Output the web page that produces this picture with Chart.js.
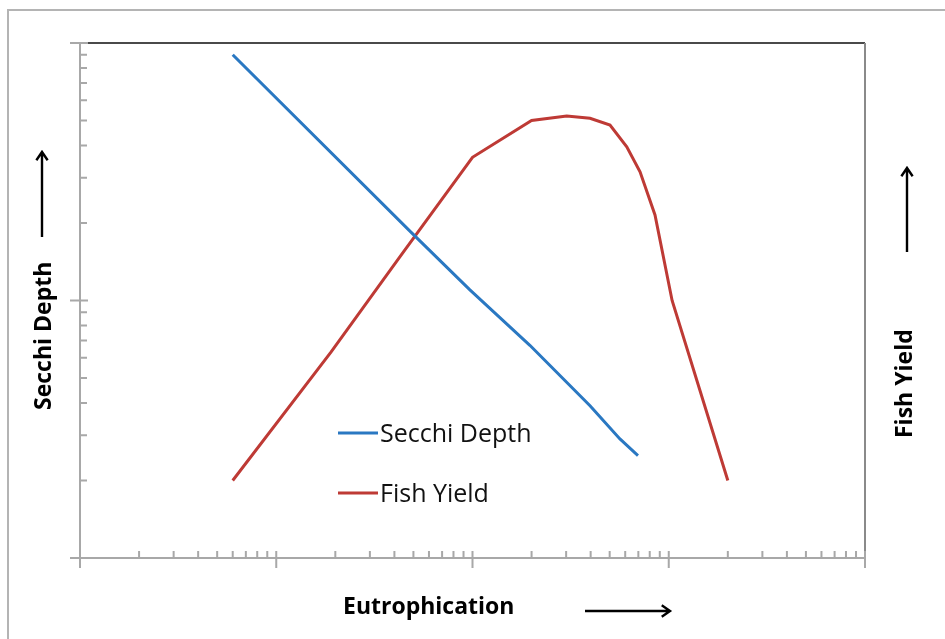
<!DOCTYPE html>
<html>
<head>
<meta charset="utf-8">
<script src="https://cdn.jsdelivr.net/npm/chart.js@4.4.1/dist/chart.umd.min.js"></script>
<style>
  html, body { margin: 0; padding: 0; background: #fff; overflow: hidden; }
  #wrap { position: relative; width: 945px; height: 639px; }
  #frame { position: absolute; left: 7px; top: 9px; width: 938px; height: 630px;
           border-top: 2px solid #b4b4b4; border-left: 2px solid #b4b4b4; box-sizing: border-box; }
  canvas { position: absolute; left: 0; top: 0; }
</style>
</head>
<body>
<div id="wrap">
  <div id="frame"></div>
  <canvas id="chart" width="945" height="639"></canvas>
</div>
<script>
// values (both axes logarithmic)
var secchiX = [6, 49, 97, 196, 397, 564, 697];
var secchiY = [90, 18.3, 11, 6.7, 3.9, 2.9, 2.5];
var fishX = [6, 19, 43, 100, 200, 302, 397, 502, 611, 714, 851, 1040, 2000];
var fishY = [2, 6.3, 14.9, 36, 50, 52, 51, 48, 39.5, 31.6, 21.5, 10, 2];
var xMajorTicks = [1, 10, 100, 1000, 10000];
var yMajorTicks = [1, 10, 100];
var seriesNames = ['Secchi Depth', 'Fish Yield'];
var seriesColors = ['#2a78c2', '#be3a35'];
var xTitle = 'Eutrophication';
var yTitle = 'Secchi Depth';
var y2Title = 'Fish Yield';

var toPoints = function (xs, ys) {
  var pts = [];
  for (var i = 0; i < xs.length; i++) {
    pts.push({x: xs[i], y: ys[i]});
  }
  return pts;
};

var arrow = function (ctx, x1, y1, x2, y2) {
  var a = Math.atan2(y2 - y1, x2 - x1);
  ctx.beginPath();
  ctx.moveTo(x1, y1);
  ctx.lineTo(x2, y2);
  ctx.moveTo(x2 - 10 * Math.cos(a - 0.6), y2 - 10 * Math.sin(a - 0.6));
  ctx.lineTo(x2, y2);
  ctx.lineTo(x2 - 10 * Math.cos(a + 0.6), y2 - 10 * Math.sin(a + 0.6));
  ctx.stroke();
};

var axesPlugin = {
  id: 'axesPlugin',
  beforeDatasetsDraw: function (chart) {
    var ctx = chart.ctx;
    var area = chart.chartArea;
    var xs = chart.scales.x;
    var ys = chart.scales.y;
    ctx.save();
    ctx.lineCap = 'butt';

    // top and right frame
    ctx.strokeStyle = '#4a4a4a';
    ctx.lineWidth = 2;
    ctx.beginPath();
    ctx.moveTo(area.left, area.top);
    ctx.lineTo(area.right, area.top);
    ctx.stroke();
    ctx.strokeStyle = '#8a8a8a';
    ctx.beginPath();
    ctx.moveTo(area.right, area.top);
    ctx.lineTo(area.right, area.bottom);
    ctx.stroke();

    // left and bottom axes
    ctx.strokeStyle = '#a8a8a8';
    ctx.beginPath();
    ctx.moveTo(area.left, area.top);
    ctx.lineTo(area.left, area.bottom + 10);
    ctx.moveTo(area.left - 10, area.bottom);
    ctx.lineTo(area.right, area.bottom);
    ctx.stroke();

    // x ticks
    ctx.lineWidth = 2;
    ctx.beginPath();
    for (var i = 0; i < xMajorTicks.length; i++) {
      var px = xs.getPixelForValue(xMajorTicks[i]);
      ctx.moveTo(px, area.bottom - 7);
      ctx.lineTo(px, area.bottom + 10);
      if (i < xMajorTicks.length - 1) {
        for (var m = 2; m <= 9; m++) {
          var mx = xs.getPixelForValue(xMajorTicks[i] * m);
          ctx.moveTo(mx, area.bottom - 7);
          ctx.lineTo(mx, area.bottom);
        }
      }
    }
    // y ticks
    for (var j = 0; j < yMajorTicks.length; j++) {
      var py = ys.getPixelForValue(yMajorTicks[j]);
      ctx.moveTo(area.left - 10, py);
      ctx.lineTo(area.left + 8, py);
      if (j < yMajorTicks.length - 1) {
        for (var n = 2; n <= 9; n++) {
          var my = ys.getPixelForValue(yMajorTicks[j] * n);
          ctx.moveTo(area.left, my);
          ctx.lineTo(area.left + 7, my);
        }
      }
    }
    ctx.stroke();
    ctx.restore();
  },
  afterDraw: function (chart) {
    var ctx = chart.ctx;
    ctx.save();

    // legend inside the plot
    var sets = chart.data.datasets;
    ctx.font = '25px "Open Sans"';
    ctx.textBaseline = 'alphabetic';
    ctx.textAlign = 'left';
    for (var i = 0; i < sets.length; i++) {
      var ly = 433 + i * 60;
      ctx.strokeStyle = sets[i].borderColor;
      ctx.lineWidth = 3;
      ctx.beginPath();
      ctx.moveTo(338, ly);
      ctx.lineTo(378, ly);
      ctx.stroke();
      ctx.fillStyle = '#111';
      ctx.fillText(sets[i].label, 380, ly + 9);
    }

    // axis titles
    ctx.fillStyle = '#000';
    ctx.font = 'bold 23px "Open Sans"';
    ctx.fillText(xTitle, 343, 614);

    ctx.save();
    ctx.translate(51, 410);
    ctx.rotate(-Math.PI / 2);
    ctx.fillText(yTitle, 0, 0);
    ctx.restore();

    ctx.save();
    ctx.translate(912, 438);
    ctx.rotate(-Math.PI / 2);
    ctx.fillText(y2Title, 0, 0);
    ctx.restore();

    // arrows
    ctx.strokeStyle = '#000';
    ctx.lineWidth = 2.4;
    arrow(ctx, 585, 611, 670, 611);
    arrow(ctx, 42, 237, 42, 152);
    arrow(ctx, 907, 252, 907, 168);
    ctx.restore();
  }
};

var chart = new Chart(document.getElementById('chart').getContext('2d'), {
  type: 'line',
  data: {
    datasets: [
      {label: seriesNames[0], data: toPoints(secchiX, secchiY), borderColor: seriesColors[0]},
      {label: seriesNames[1], data: toPoints(fishX, fishY), borderColor: seriesColors[1]}
    ]
  },
  options: {
    responsive: false,
    animation: false,
    events: [],
    layout: {padding: {left: 80, right: 80, top: 43, bottom: 81}},
    elements: {
      line: {borderWidth: 3, tension: 0, fill: false},
      point: {radius: 0}
    },
    plugins: {legend: {display: false}, tooltip: {enabled: false}},
    scales: {
      x: {type: 'logarithmic', min: 1, max: 10000, display: false},
      y: {type: 'logarithmic', min: 1, max: 100, display: false}
    }
  },
  plugins: [axesPlugin]
});
</script>
</body>
</html>
